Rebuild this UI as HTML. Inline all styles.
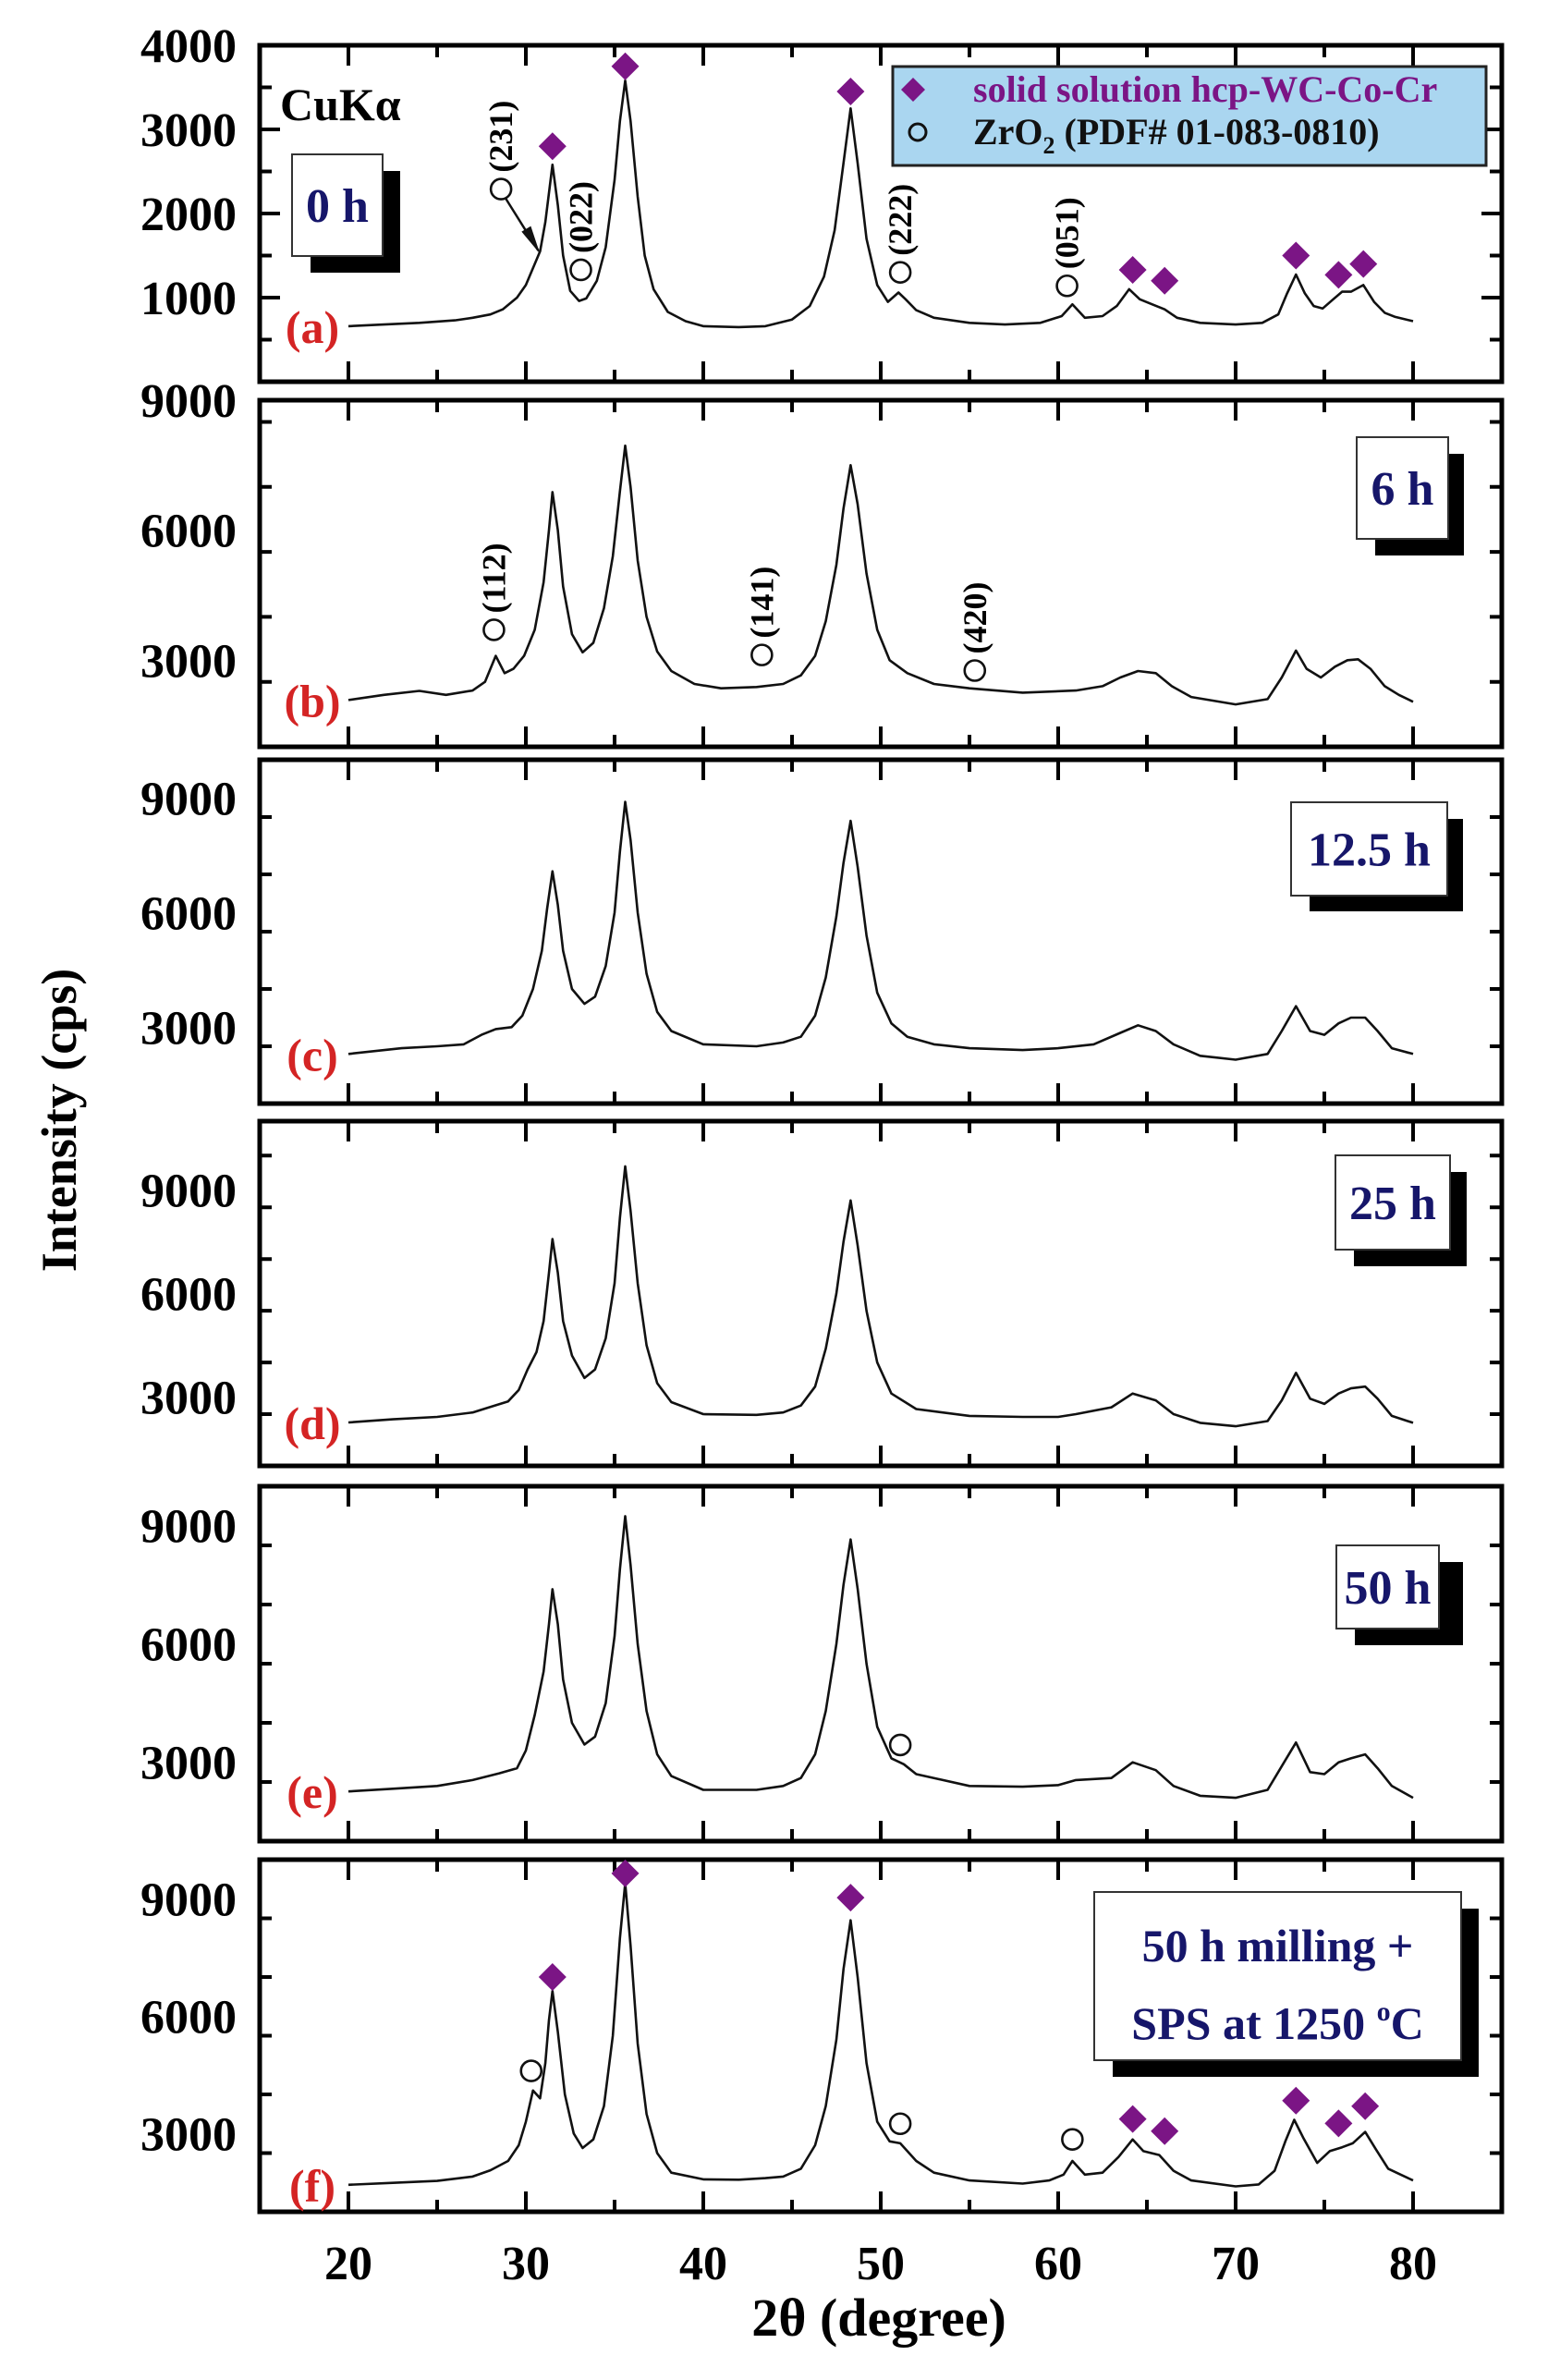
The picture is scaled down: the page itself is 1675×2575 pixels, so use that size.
<!DOCTYPE html>
<html><head><meta charset="utf-8"><style>
html,body{margin:0;padding:0;background:#fff;}
svg{display:block;}
text{font-family:"Liberation Serif",serif;font-weight:bold;}
</style></head><body>
<svg id="chart" width="1675" height="2575" viewBox="0 0 1675 2575" xmlns="http://www.w3.org/2000/svg">
<g id="frames"></g>
<g id="curves"></g>
<g id="marks"></g>
<g id="deco"></g>
<text x="0" y="0" font-size="54" text-anchor="middle" transform="translate(82,1212) rotate(-90)">Intensity (cps)</text>
<text x="951" y="2527" font-size="58" text-anchor="middle">2θ (degree)</text>
</svg>
<script>
// ---- data (2θ in degree, intensity in cps) ----
const xTicks = [20,30,40,50,60,70,80];
const panelNames = ['a','b','c','d','e','f'];
const panelYMin = [0,1000,1000,1000,1000,1000];
const panelYMax = [4000,9000,10000,11000,10000,10000];
const panelYTicks = [[1000,2000,3000,4000],[3000,6000,9000],[3000,6000,9000],[3000,6000,9000],[3000,6000,9000],[3000,6000,9000]];
const panelYMinor = [500,1500,1500,1500,1500,1500];
const timeLabels = ['0 h','6 h','12.5 h','25 h','50 h'];

const curveA = [[20,660],[22,680],[24,700],[26,730],[27,760],[28,800],[28.7,860],[29.5,1000],[30,1150],[30.4,1350],[30.8,1550],[31.1,1900],[31.5,2580],[31.8,2100],[32.1,1500],[32.5,1080],[33,960],[33.4,990],[34,1200],[34.5,1600],[35,2400],[35.3,3100],[35.6,3580],[35.9,3100],[36.3,2200],[36.7,1500],[37.2,1100],[38,830],[39,720],[40,660],[42,650],[43.5,660],[45,740],[46,900],[46.8,1250],[47.4,1800],[47.9,2600],[48.3,3250],[48.7,2600],[49.2,1700],[49.8,1150],[50.4,950],[51,1060],[51.4,980],[52,850],[53,760],[55,700],[57,680],[59,700],[60.2,780],[60.8,920],[61.5,760],[62.5,780],[63.3,900],[64,1100],[64.6,980],[65.3,920],[66,860],[66.7,760],[68,700],[70,680],[71.5,700],[72.4,800],[72.9,1050],[73.4,1275],[73.9,1050],[74.4,900],[74.9,870],[75.5,980],[76,1070],[76.5,1070],[77.2,1150],[77.8,950],[78.4,820],[79,770],[80,720]];
const curveB = [[20,2080],[22,2200],[24,2290],[25.5,2200],[27,2300],[27.7,2500],[28.3,3100],[28.8,2700],[29.3,2800],[29.9,3100],[30.5,3700],[31,4800],[31.3,6000],[31.5,6880],[31.8,6000],[32.1,4700],[32.6,3600],[33.2,3180],[33.8,3400],[34.4,4200],[34.9,5400],[35.3,6900],[35.6,7950],[35.9,7000],[36.3,5300],[36.8,4000],[37.4,3200],[38.2,2750],[39.5,2450],[41,2350],[43,2380],[44.5,2450],[45.5,2650],[46.3,3100],[46.9,3900],[47.5,5200],[47.9,6500],[48.3,7500],[48.7,6600],[49.2,5000],[49.8,3700],[50.5,3000],[51.5,2700],[53,2450],[55,2350],[58,2250],[61,2300],[62.5,2400],[63.5,2600],[64.5,2750],[65.5,2700],[66.4,2400],[67.5,2150],[70,1980],[71.8,2100],[72.6,2600],[73.4,3220],[74,2800],[74.8,2600],[75.6,2850],[76.3,3000],[76.9,3020],[77.6,2800],[78.4,2400],[79.2,2200],[80,2040]];
const curveC = [[20,2300],[23,2450],[25,2500],[26.5,2550],[27.5,2800],[28.3,2950],[29.2,3000],[29.8,3300],[30.4,4000],[30.9,5000],[31.2,6100],[31.5,7080],[31.8,6200],[32.1,5000],[32.6,4000],[33.3,3610],[33.9,3800],[34.5,4600],[35,6000],[35.3,7600],[35.6,8900],[35.9,7900],[36.3,6000],[36.8,4400],[37.4,3400],[38.2,2900],[40,2550],[43,2500],[44.5,2600],[45.5,2750],[46.3,3300],[46.9,4300],[47.5,5900],[47.9,7300],[48.3,8400],[48.7,7200],[49.2,5400],[49.8,3900],[50.6,3100],[51.5,2750],[53,2550],[55,2450],[58,2400],[60,2450],[62,2550],[63.5,2850],[64.5,3050],[65.5,2900],[66.5,2550],[68,2250],[70,2150],[71.8,2300],[72.6,2900],[73.4,3550],[74.2,2900],[75,2800],[75.8,3100],[76.5,3250],[77.3,3250],[78,2900],[78.8,2450],[80,2300]];
const curveD = [[20,2260],[22.5,2350],[25,2420],[27,2550],[29,2870],[29.6,3200],[30.1,3800],[30.6,4300],[31,5200],[31.3,6600],[31.5,7580],[31.8,6600],[32.1,5200],[32.6,4200],[33.3,3550],[33.9,3800],[34.5,4700],[35,6300],[35.3,8200],[35.6,9690],[35.9,8400],[36.3,6300],[36.8,4500],[37.4,3400],[38.2,2850],[40,2500],[43,2480],[44.5,2550],[45.5,2750],[46.3,3300],[46.9,4400],[47.5,6000],[47.9,7500],[48.3,8700],[48.7,7400],[49.2,5500],[49.8,4000],[50.6,3100],[52,2650],[55,2450],[58,2420],[60,2420],[61,2500],[63,2700],[64.2,3100],[65.5,2900],[66.5,2500],[68,2250],[70,2150],[71.8,2300],[72.6,2900],[73.4,3700],[74.2,2950],[75,2800],[75.8,3100],[76.5,3250],[77.3,3300],[78,2950],[78.8,2450],[80,2250]];
const curveE = [[20,2260],[22.5,2330],[25,2400],[27,2550],[28.5,2720],[29.5,2850],[30,3300],[30.5,4200],[31,5300],[31.3,6500],[31.5,7390],[31.8,6500],[32.1,5100],[32.6,4000],[33.3,3450],[33.9,3650],[34.5,4500],[35,6200],[35.3,7900],[35.6,9240],[35.9,8000],[36.3,6000],[36.8,4300],[37.4,3200],[38.2,2650],[40,2300],[43,2300],[44.5,2400],[45.5,2600],[46.3,3200],[46.9,4300],[47.5,6000],[47.9,7500],[48.3,8650],[48.7,7400],[49.2,5500],[49.8,3900],[50.6,3100],[51.3,2950],[52,2700],[55,2400],[58,2380],[60,2420],[61,2550],[63,2600],[64.2,3000],[65.5,2800],[66.5,2400],[68,2150],[70,2100],[71.8,2300],[72.6,2900],[73.4,3500],[74.2,2750],[75,2700],[75.8,3000],[76.5,3100],[77.3,3200],[78,2850],[78.8,2400],[80,2100]];
const curveF = [[20,1690],[22.5,1740],[25,1790],[27,1900],[28,2060],[29,2300],[29.6,2700],[30,3300],[30.4,4100],[30.8,3900],[31.1,4800],[31.3,5900],[31.5,6640],[31.8,5600],[32.2,4000],[32.7,3000],[33.2,2630],[33.8,2850],[34.4,3700],[34.9,5500],[35.3,8000],[35.6,9400],[35.9,7800],[36.3,5300],[36.8,3500],[37.4,2500],[38.2,2000],[40,1830],[42,1820],[43.5,1860],[44.5,1900],[45.5,2100],[46.3,2700],[46.9,3700],[47.5,5400],[47.9,7200],[48.3,8450],[48.7,7000],[49.2,4800],[49.8,3300],[50.5,2800],[51.1,2750],[52,2300],[53,2000],[55,1800],[58,1720],[59.5,1800],[60.3,1950],[60.8,2300],[61.5,1950],[62.5,2000],[63.4,2400],[64.2,2850],[64.8,2550],[65.7,2450],[66.5,2050],[67.5,1800],[70,1650],[71.3,1700],[72.2,2050],[72.8,2800],[73.3,3350],[73.8,2900],[74.6,2250],[75.3,2550],[76,2650],[76.6,2750],[77.3,3040],[77.9,2600],[78.6,2100],[79.3,1950],[80,1800]];
const panelCurves = [curveA,curveB,curveC,curveD,curveE,curveF];

// markers: diamonds = hcp-WC-Co-Cr, circles = ZrO2
const diamondsA = [[31.5,2800],[35.6,3750],[48.3,3450],[64.2,1330],[66.0,1200],[73.4,1500],[75.8,1270],[77.2,1400]];
const circlesA = [[28.6,2290],[33.1,1330],[51.1,1300],[60.5,1140]];
const hklA = ['(231)','(022)','(222)','(051)'];
const circlesB = [[28.2,3700],[43.3,3120],[55.3,2760]];
const hklB = ['(112)','(141)','(420)'];
const circlesE = [[51.1,3440]];
const diamondsF = [[31.5,7000],[35.6,9650],[48.3,9030],[64.2,3370],[66.0,3060],[73.4,3840],[75.8,3260],[77.3,3700]];
const circlesF = [[30.3,4600],[51.1,3250],[60.8,2850]];

// ---- layout ----
const PL = 281, PR = 1625, XMIN = 15, XMAX = 85;
const panelTop = [49,433,822,1213,1608,2012];
const panelBot = [413,808,1194,1586,1992,2393];
const NS = 'http://www.w3.org/2000/svg';
function X(v){ return PL + (v - XMIN) / (XMAX - XMIN) * (PR - PL); }
function Y(p, v){ return panelBot[p] - (v - panelYMin[p]) / (panelYMax[p] - panelYMin[p]) * (panelBot[p] - panelTop[p]); }
function mk(tag, attrs, parent){ const e = document.createElementNS(NS, tag); for (const k in attrs) e.setAttribute(k, attrs[k]); parent.appendChild(e); return e; }
const gF = document.getElementById('frames'), gC = document.getElementById('curves'), gM = document.getElementById('marks'), gD = document.getElementById('deco');

panelNames.forEach((nm, p) => {
  const t = panelTop[p], b = panelBot[p];
  const fr = mk('rect', {x:PL, y:t, width:PR-PL, height:b-t, fill:'none', stroke:'#000', 'stroke-width':5}, gF);
  
  
  // x ticks
  for (let v = 20; v <= 80; v += 5) {
    const major = v % 10 === 0, L = major ? 22 : 13;
    const tk = mk('path', {d:`M${X(v)},${b}v${-L}M${X(v)},${t}v${L}`, stroke:'#000', 'stroke-width':4}, gF);
    
    
  }
  // y ticks
  for (let v = panelYMin[p] + panelYMinor[p]; v < panelYMax[p] + 1; v += panelYMinor[p]) {
    const major = panelYTicks[p].includes(v), L = major ? 22 : 13;
    const yy = Y(p, v);
    if (yy < t + 2) continue;
    const tk = mk('path', {d:`M${PL},${yy}h${L}M${PR},${yy}h${-L}`, stroke:'#000', 'stroke-width':4}, gF);
    
    
  }
  panelYTicks[p].forEach(v => {
    const lb = mk('text', {x:256, y:Y(p, v) + 18, 'font-size':52, 'text-anchor':'end'}, gF);
    lb.textContent = v;
    
    
  });
  // curve
  const pts = panelCurves[p];
  const d = pts.map((q, i) => (i ? 'L' : 'M') + X(q[0]).toFixed(1) + ',' + Y(p, q[1]).toFixed(1)).join('');
  const ln = mk('path', {d:d, fill:'none', stroke:'#111', 'stroke-width':2.6, 'stroke-linejoin':'round'}, gC);
  
  
  // panel letter
  const pl = mk('text', {x:338, y:Y(p, pts[0][1]) + 18, 'font-size':50, 'text-anchor':'middle', fill:'#d42424'}, gD);
  pl.textContent = '(' + nm + ')';
  
  
});

xTicks.forEach(v => {
  const lb = mk('text', {x:X(v), y:2466, 'font-size':52, 'text-anchor':'middle'}, gF);
  lb.textContent = v;
  
  
});

function diamond(p, q){
  const cx = X(q[0]), cy = Y(p, q[1]), r = 15;
  const e = mk('path', {d:`M${cx},${cy-r}L${cx+r},${cy}L${cx},${cy+r}L${cx-r},${cy}Z`, fill:'#7b1585'}, gM);
  
  
}
function circle(p, q){
  const e = mk('circle', {cx:X(q[0]), cy:Y(p, q[1]), r:11, fill:'#fff', stroke:'#111', 'stroke-width':2.6}, gM);
  
  
}
function hkl(p, q, s){
  const cx = X(q[0]) + 12, cy = Y(p, q[1]) - 18;
  const e = mk('text', {x:0, y:0, 'font-size':36, 'text-anchor':'start', transform:`translate(${cx},${cy}) rotate(-90)`}, gD);
  e.textContent = s;
  
  
}
diamondsA.forEach(q => diamond(0, q));
circlesA.forEach((q, i) => { circle(0, q); hkl(0, q, hklA[i]); });
circlesB.forEach((q, i) => { circle(1, q); hkl(1, q, hklB[i]); });
circlesE.forEach(q => circle(4, q));
diamondsF.forEach(q => diamond(5, q));
circlesF.forEach(q => circle(5, q));

// arrow (231) -> shoulder
const arr = mk('path', {d:`M${X(28.6)+5},${Y(0,2290)+10}L${X(30.7)},${Y(0,1560)}`, stroke:'#111', 'stroke-width':2.5}, gD);


const ah = mk('path', {d:`M${X(30.8)},${Y(0,1520)}l-20,-24l10,-6z`, fill:'#111'}, gD);



// CuKa
const cu = mk('text', {x:303, y:130, 'font-size':50}, gD);
cu.textContent = 'CuKα';



// legend
const lg = mk('rect', {x:966, y:72, width:642, height:107, fill:'#aad6f0', stroke:'#222', 'stroke-width':3}, gD);


const ld = mk('path', {d:'M988,84L1001,97L988,110L975,97Z', fill:'#7b1585'}, gD);


const lt1 = mk('text', {x:1053, y:110, 'font-size':40, fill:'#7b1585'}, gD);
lt1.textContent = 'solid solution hcp-WC-Co-Cr';


const lc = mk('circle', {cx:993, cy:143, r:9, fill:'none', stroke:'#111', 'stroke-width':3}, gD);


const lt2 = mk('text', {x:1053, y:156, 'font-size':40, fill:'#111'}, gD);
lt2.innerHTML = 'ZrO<tspan font-size="26" dy="10">2</tspan><tspan dy="-10"> (PDF# 01-083-0810)</tspan>';



// time boxes [x1,y1,x2,y2,shadowX2,shadowY2]
const boxes = [[316,167,414,277,433,295],[1468,473,1567,583,1584,601],[1397,868,1566,969,1583,986],[1445,1250,1569,1352,1587,1370],[1446,1672,1557,1762,1583,1780],[1184,2047,1581,2229,1600,2247]];
boxes.forEach((bx, i) => {
  const sh = mk('rect', {x:bx[0]+20, y:bx[1]+18, width:bx[4]-bx[0]-20, height:bx[5]-bx[1]-18, fill:'#000'}, gD);
  
  
  const r = mk('rect', {x:bx[0], y:bx[1], width:bx[2]-bx[0], height:bx[3]-bx[1], fill:'#fff', stroke:'#333', 'stroke-width':2}, gD);
  
  
  const cx = (bx[0] + bx[2]) / 2;
  if (i < 5) {
    const tx = mk('text', {x:cx, y:(bx[1]+bx[3])/2 + 18, 'font-size':52, 'text-anchor':'middle', fill:'#16166a'}, gD);
    tx.textContent = timeLabels[i];
    
    
  } else {
    const t1 = mk('text', {x:cx, y:2122, 'font-size':50, 'text-anchor':'middle', fill:'#16166a'}, gD);
    t1.textContent = '50 h milling +';
    
    
    const t2 = mk('text', {x:cx, y:2206, 'font-size':50, 'text-anchor':'middle', fill:'#16166a'}, gD);
    t2.innerHTML = 'SPS at 1250 <tspan font-size="30" dy="-20">o</tspan><tspan dy="20">C</tspan>';
    
    
  }
});
</script>
</body></html>
